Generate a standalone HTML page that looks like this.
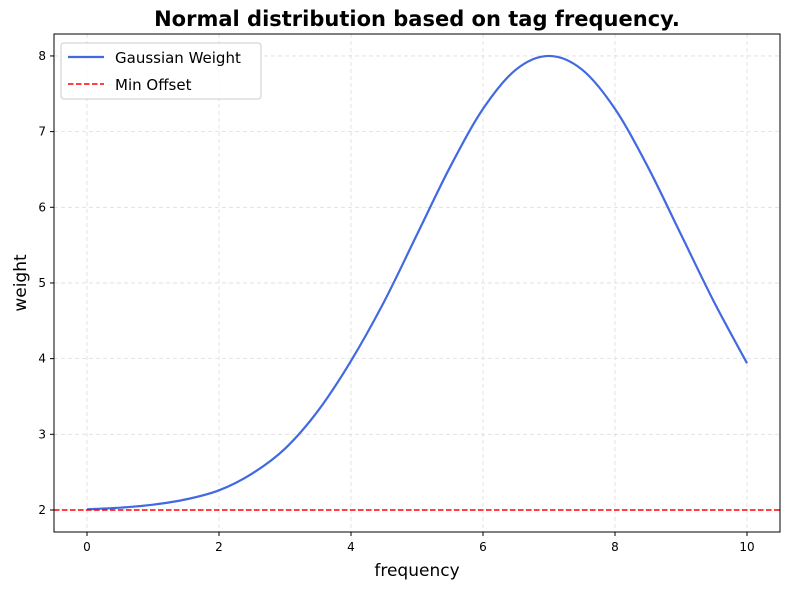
<!DOCTYPE html>
<html><head><meta charset="utf-8"><style>
body{margin:0;background:#fff;}
svg text{font-family:"DejaVu Sans","Liberation Sans",sans-serif;}
</style></head><body>
<svg id="chart" width="790" height="590" xmlns="http://www.w3.org/2000/svg">
<rect width="790" height="590" fill="#fff"/>
<text x="417" y="26" text-anchor="middle" font-size="21" font-weight="bold">Normal distribution based on tag frequency.</text>
<g id="grid"></g>
<g id="ticks"></g>
<path id="gauss" fill="none" stroke="#4169e1" stroke-width="2.2"/>
<line id="minline" stroke="#ff0000" stroke-width="1.5" stroke-dasharray="5.5,2.5"/>
<rect x="54" y="34" width="726" height="498" fill="none" stroke="#000" stroke-width="1"/>
<text x="417" y="576" text-anchor="middle" font-size="17">frequency</text>
<text x="26" y="283" text-anchor="middle" font-size="17" transform="rotate(-90 26 283)">weight</text>
<g>
<rect x="61" y="43" width="200" height="56" rx="3" fill="#fff" fill-opacity="0.8" stroke="#ccc"/>
<line x1="68" y1="57" x2="104" y2="57" stroke="#4169e1" stroke-width="2.2"/>
<text x="115" y="63" font-size="15">Gaussian Weight</text>
<line x1="68" y1="84" x2="104" y2="84" stroke="#ff0000" stroke-width="1.5" stroke-dasharray="5.5,2.5"/>
<text x="115" y="90" font-size="15">Min Offset</text>
</g>
</svg>
<script>
const xValues=[0,0.5,1,1.5,2,2.5,3,3.5,4,4.5,5,5.5,6,6.5,7,7.5,8,8.5,9,9.5,10];
const weights=[2.01,2.03,2.07,2.14,2.26,2.48,2.81,3.31,3.97,4.75,5.64,6.53,7.30,7.82,8.00,7.82,7.30,6.53,5.64,4.75,3.94];
const minOffset=2;
const xTicks=[0,2,4,6,8,10];
const yTicks=[2,3,4,5,6,7,8];
const X0=54,X1=780,Y0=532,Y1=34,xMin=-0.5,xMax=10.5,yMin=1.709,yMax=8.29;
const sx=v=>X0+(v-xMin)/(xMax-xMin)*(X1-X0);
const sy=v=>Y0-(v-yMin)/(yMax-yMin)*(Y0-Y1);
const NS="http://www.w3.org/2000/svg";
const grid=document.getElementById('grid'),ticks=document.getElementById('ticks');
function mk(tag,attrs,parent){const e=document.createElementNS(NS,tag);for(const k in attrs)e.setAttribute(k,attrs[k]);parent.appendChild(e);return e;}
xTicks.forEach(t=>{const x=sx(t);
 const g=mk('line',{x1:x,x2:x,y1:Y1,y2:Y0,stroke:'#ddd','stroke-dasharray':'4,3','stroke-width':0.8},grid);
 
 
 mk('line',{x1:x,x2:x,y1:Y0,y2:Y0+4,stroke:'#000'},ticks);
 const tx=mk('text',{x:x,y:Y0+19,'text-anchor':'middle','font-size':12},ticks);tx.textContent=t;
 
 
});
yTicks.forEach(t=>{const y=sy(t);
 const g=mk('line',{x1:X0,x2:X1,y1:y,y2:y,stroke:'#ddd','stroke-dasharray':'4,3','stroke-width':0.8},grid);
 
 
 mk('line',{x1:X0-4,x2:X0,y1:y,y2:y,stroke:'#000'},ticks);
 const tx=mk('text',{x:X0-8,y:y+4,'text-anchor':'end','font-size':12},ticks);tx.textContent=t;
 
 
});
const pts=xValues.map((v,i)=>[sx(v),sy(weights[i])]);
let d='M'+pts[0][0]+','+pts[0][1];
for(let i=0;i<pts.length-1;i++){
 const p0=pts[Math.max(0,i-1)],p1=pts[i],p2=pts[i+1],p3=pts[Math.min(pts.length-1,i+2)];
 const c1=[p1[0]+(p2[0]-p0[0])/6,p1[1]+(p2[1]-p0[1])/6];
 const c2=[p2[0]-(p3[0]-p1[0])/6,p2[1]-(p3[1]-p1[1])/6];
 d+=' C'+c1[0]+','+c1[1]+' '+c2[0]+','+c2[1]+' '+p2[0]+','+p2[1];
}
document.getElementById('gauss').setAttribute('d',d);
const ml=document.getElementById('minline');
ml.setAttribute('x1',X0);ml.setAttribute('x2',X1);ml.setAttribute('y1',sy(minOffset));ml.setAttribute('y2',sy(minOffset));
</script>
</body></html>
